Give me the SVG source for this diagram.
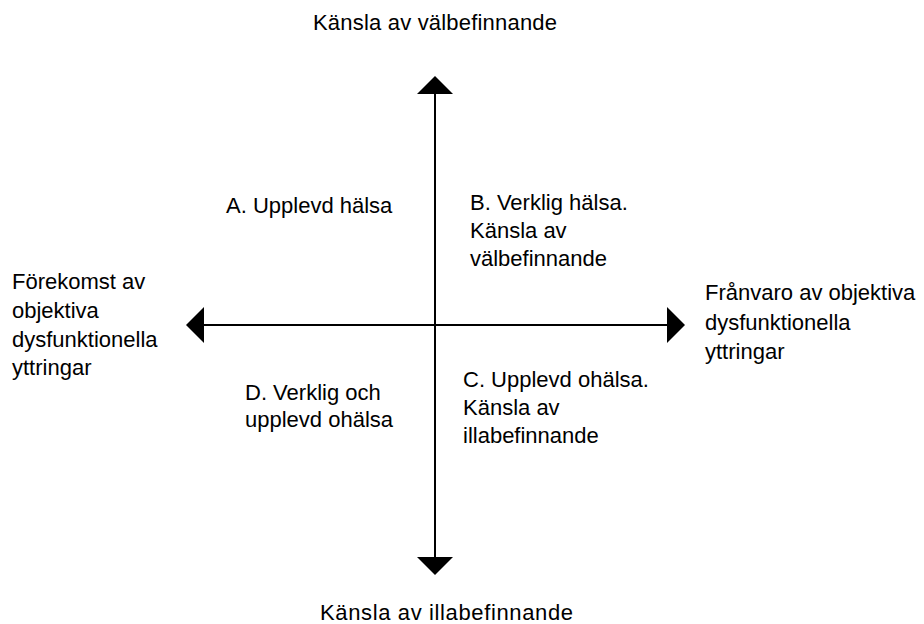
<svg xmlns="http://www.w3.org/2000/svg" width="924" height="624" viewBox="0 0 924 624">
<style>
text{font-family:"Liberation Sans",Arial,sans-serif;font-size:22px;fill:#000}
.ax{stroke:#000;stroke-width:2;fill:none}
.hd{fill:#000;stroke:none}
</style>
<rect width="924" height="624" fill="#fff"/>
<g id="connectors">
<line class="ax" x1="435" y1="90" x2="435" y2="560"/>
<line class="ax" x1="200" y1="325" x2="670" y2="325"/>
<polygon class="hd" points="435,76 453,94 417,94"/>
<polygon class="hd" points="435,575 453,557 417,557"/>
<polygon class="hd" points="186,325 204,307 204,343"/>
<polygon class="hd" points="685,325 667,307 667,343"/>
</g>
<g id="top"><text x="313" y="30" textLength="244">Känsla av välbefinnande</text></g>
<g id="bottom"><text x="320" y="620" textLength="253">Känsla av illabefinnande</text></g>
<g id="left">
<text x="12" y="289">Förekomst av</text>
<text x="12" y="318">objektiva</text>
<text x="12" y="347">dysfunktionella</text>
<text x="12" y="375">yttringar</text>
</g>
<g id="right">
<text x="705" y="300">Frånvaro av objektiva</text>
<text x="705" y="330">dysfunktionella</text>
<text x="705" y="359">yttringar</text>
</g>
<g id="A"><text x="226" y="213">A. Upplevd hälsa</text></g>
<g id="B">
<text x="470" y="210">B. Verklig hälsa.</text>
<text x="470" y="238">Känsla av</text>
<text x="470" y="266">välbefinnande</text>
</g>
<g id="D">
<text x="245" y="400">D. Verklig och</text>
<text x="245" y="427">upplevd ohälsa</text>
</g>
<g id="C">
<text x="463" y="387">C. Upplevd ohälsa.</text>
<text x="463" y="415">Känsla av</text>
<text x="463" y="443">illabefinnande</text>
</g>
</svg>
